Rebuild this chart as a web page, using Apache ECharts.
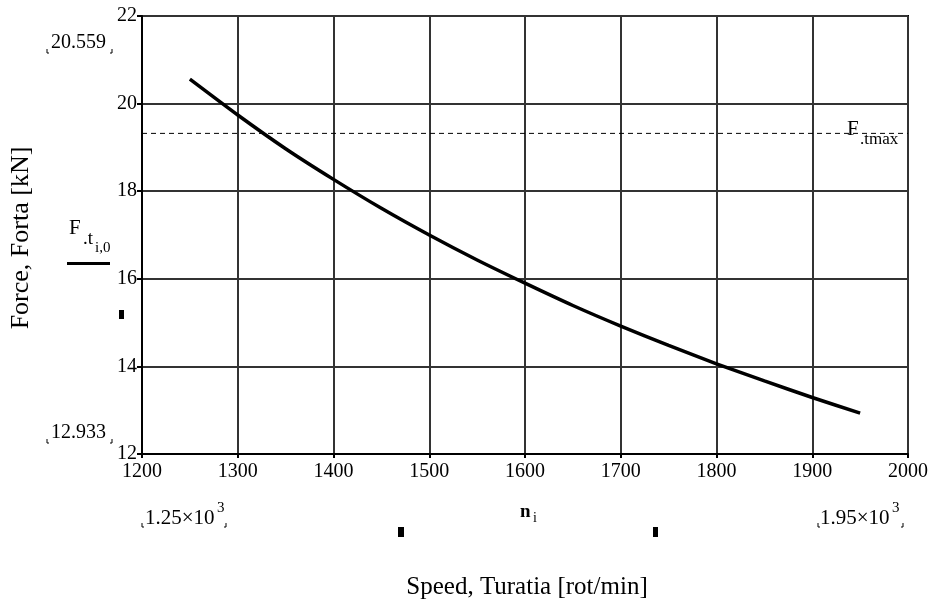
<!DOCTYPE html>
<html>
<head>
<meta charset="utf-8">
<script src="https://cdn.jsdelivr.net/npm/echarts@6/dist/echarts.min.js"></script>
<style>
  html, body { margin: 0; padding: 0; background: #fff; }
  #chart { width: 932px; height: 601px; }
</style>
</head>
<body>
<div id="chart"></div>
<script>
const SPEED = [1250, 1300, 1350, 1400, 1450, 1500, 1550, 1600, 1650, 1700, 1750, 1800, 1850, 1900, 1950];
const FORCE = [20.559, 19.74, 18.97, 18.27, 17.61, 17.0, 16.43, 15.9, 15.39, 14.92, 14.48, 14.06, 13.67, 13.29, 12.933];
const FTMAX = 19.32;
const X_RANGE = [1200, 2000];
const Y_RANGE = [12, 22];

const FONT = "Liberation Serif";

function txt(x, y, text, size, extra) {
  return Object.assign({
    type: "text",
    x, y,
    silent: true,
    style: {
      text,
      fill: "#000",
      fontFamily: FONT,
      fontSize: size,
      fontWeight: (extra && extra.bold) ? "bold" : "normal",
      align: (extra && extra.align) || "left",
      verticalAlign: "middle"
    }
  }, (extra && extra.rotation) ? { rotation: extra.rotation } : {});
}

function bracket(x1, x2, yBottom) {
  const h = 4;
  const style = { stroke: "#000", lineWidth: 1, fill: null };
  return [
    { type: "polyline", silent: true, shape: { points: [[x1, yBottom - h], [x1, yBottom], [x1 + 2, yBottom]] }, style },
    { type: "polyline", silent: true, shape: { points: [[x2 - 2, yBottom], [x2, yBottom], [x2, yBottom - h]] }, style }
  ];
}

function box(x, y, w, h) {
  return { type: "rect", silent: true, shape: { x, y, width: w, height: h }, style: { fill: "#000" } };
}

const chart = echarts.init(document.getElementById("chart"));

chart.setOption({
  animation: false,
  grid: {
    left: 142,
    top: 16,
    right: 24,
    bottom: 147,
    show: true,
    borderColor: "#000",
    borderWidth: 2,
    backgroundColor: "transparent"
  },
  xAxis: {
    type: "value",
    min: X_RANGE[0],
    max: X_RANGE[1],
    interval: 100,
    axisLine: { show: true, lineStyle: { color: "#000", width: 2 } },
    axisTick: { show: true, length: 4, lineStyle: { color: "#000", width: 2 } },
    splitLine: { show: true, lineStyle: { color: "#333", width: 2 } },
    axisLabel: { color: "#000", fontFamily: FONT, fontSize: 20, margin: 8, formatter: (v) => String(v) }
  },
  yAxis: {
    type: "value",
    min: Y_RANGE[0],
    max: Y_RANGE[1],
    interval: 2,
    axisLine: { show: true, lineStyle: { color: "#000", width: 2 } },
    axisTick: { show: true, length: 5, lineStyle: { color: "#000", width: 2 } },
    splitLine: { show: true, lineStyle: { color: "#333", width: 2 } },
    axisLabel: { color: "#000", fontFamily: FONT, fontSize: 20, margin: 5 }
  },
  series: [
    {
      type: "line",
      data: [[X_RANGE[0], FTMAX], [X_RANGE[1], FTMAX]],
      symbol: "none",
      silent: true,
      lineStyle: { color: "#000", width: 1, type: [5, 4] }
    },
    {
      type: "line",
      data: SPEED.map((n, i) => [n, FORCE[i]]),
      symbol: "none",
      smooth: 0.2,
      silent: true,
      lineStyle: { color: "#000", width: 3.5 }
    }
  ],
  graphic: [
    txt(21, 238, "Force, Forta [kN]", 26, { align: "center", rotation: Math.PI / 2 }),
    txt(527, 587, "Speed, Turatia [rot/min]", 25, { align: "center" }),

    txt(51, 43, "20.559", 20),
    ...bracket(47, 112, 53),
    txt(51, 433, "12.933", 20),
    ...bracket(47, 112, 443),

    // legend label F.t i,0
    txt(69, 228, "F", 21),
    txt(83, 239, ".t", 19),
    txt(95, 248, "i,0", 15),
    box(67, 262, 43, 3),
    box(119, 310, 5, 9),

    // x range markers
    txt(145, 518, "1.25×10", 21),
    txt(217, 508, "3", 15),
    ...bracket(142, 226, 527),
    txt(820, 518, "1.95×10", 21),
    txt(892, 508, "3", 15),
    ...bracket(818, 903, 527),

    txt(520, 512, "n", 19, { bold: true }),
    txt(533, 518, "i", 14),
    box(398, 527, 6, 10),
    box(653, 527, 5, 10),

    // Ftmax label
    txt(847, 129, "F", 21),
    txt(860, 140, ".tmax", 17)
  ]
});
</script>
</body>
</html>
